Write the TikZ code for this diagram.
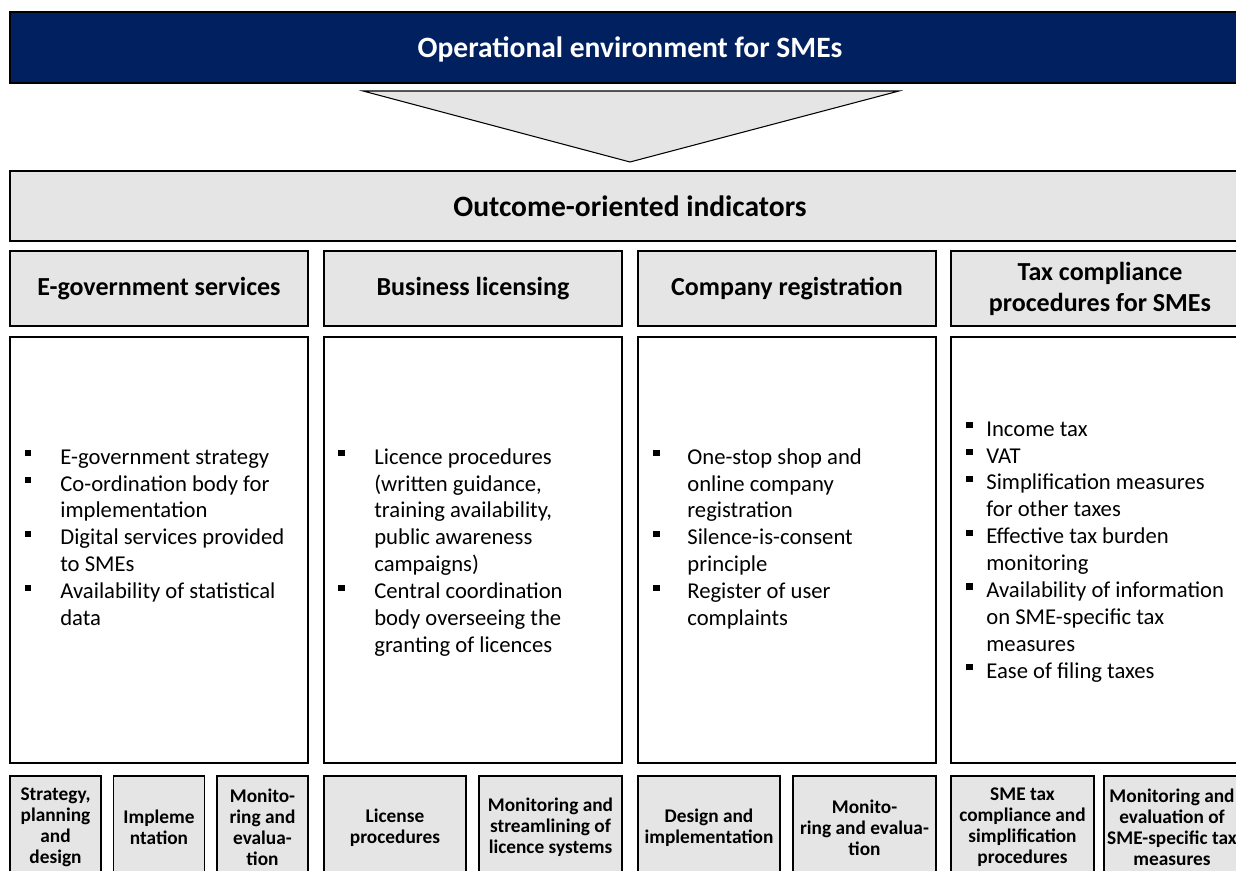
\documentclass[tikz,border=0pt]{standalone}
\usepackage{fontspec}
\setmainfont{Carlito}
\usepackage{array}
\definecolor{navy}{RGB}{0,32,96}
\newcommand{\sq}{\raisebox{4.5pt}{\rule{3.5pt}{3.5pt}}}

\begin{document}
\begin{tikzpicture}
[x=0.02cm,y=-0.02cm,
 box/.style={rectangle,draw=black,line width=1pt,fill=black!10,align=center,inner sep=2pt},
 banner/.style={box,fill=navy,text=white,font=\fontsize{16.8}{20}\selectfont\bfseries,minimum width=24.8cm,minimum height=1.42cm},
 outcome/.style={box,font=\fontsize{16.8}{20}\selectfont\bfseries,minimum width=24.8cm,minimum height=1.4cm},
 head/.style={box,font=\fontsize{14.8}{17.6}\selectfont\bfseries,minimum width=5.96cm,minimum height=1.5cm},
 content/.style={box,fill=white,minimum width=5.96cm,minimum height=8.52cm},
 list/.style={anchor=north west,inner sep=0pt,align=left,font=\fontsize{12.9}{15.3}\selectfont},
 sub/.style={box,font=\fontsize{11}{12}\selectfont\bfseries,minimum height=2.06cm}]
  \useasboundingbox (0,0) rectangle (1236,871);

  \node[banner,text depth=0pt] (env) at (630,47.5) {Operational environment for SMEs};
  \draw[line width=0.6pt,fill=black!10] (363,91) -- (899,91) -- (630,162) -- cycle;
  \node[outcome,text depth=0pt] (ind) at (630,206) {Outcome-oriented indicators};

  \node[head] (h1) at (159,288.5)  {E-government services};
  \node[head] (h2) at (473,288.5)  {Business licensing};
  \node[head] (h3) at (787,288.5)  {Company registration};
  \node[head] (h4) at (1100,288.5) {Tax compliance\\procedures for SMEs};

  \foreach \n/\cx in {c1/159,c2/473,c3/787,c4/1100}
    \node[content] (\n) at (\cx,550) {};

  \node[list] (l1) at (25,445) {\begin{tabular}{@{}p{0.7cm}@{}l@{}}
    \sq & E-government strategy\\
    \sq & Co-ordination body for\\
        & implementation\\
    \sq & Digital services provided\\
        & to SMEs\\
    \sq & Availability of statistical\\
        & data
  \end{tabular}};
  \node[list] (l2) at (338,445) {\begin{tabular}{@{}p{0.72cm}@{}l@{}}
    \sq & Licence procedures\\
        & (written guidance,\\
        & training availability,\\
        & public awareness\\
        & campaigns)\\
    \sq & Central coordination\\
        & body overseeing the\\
        & granting of licences
  \end{tabular}};
  \node[list] (l3) at (653,445) {\begin{tabular}{@{}p{0.68cm}@{}l@{}}
    \sq & One-stop shop and\\
        & online company\\
        & registration\\
    \sq & Silence-is-consent\\
        & principle\\
    \sq & Register of user\\
        & complaints
  \end{tabular}};
  \node[list] (l4) at (966,417) {\begin{tabular}{@{}p{0.4cm}@{}l@{}}
    \sq & Income tax\\
    \sq & VAT\\
    \sq & Simplification measures\\
        & for other taxes\\
    \sq & Effective tax burden\\
        & monitoring\\
    \sq & Availability of information\\
        & on SME-specific tax\\
        & measures\\
    \sq & Ease of filing taxes
  \end{tabular}};

  \foreach \n/\cx/\w/\txt in {
      s1/55.5/1.82/{Strategy,\\planning\\and\\design},
      s2/159/1.82/{Impleme\\ntation},
      s3/262.5/1.82/{Monito-\\ring and\\evalua-\\tion},
      s4/395/2.84/{License\\procedures},
      s5/550.5/2.86/{Monitoring and\\streamlining of\\licence systems},
      s6/709/2.84/{Design and\\implementation},
      s7/864.5/2.86/{Monito-\\ring and evalua-\\tion},
      s8/1022.5/2.86/{SME tax\\compliance and\\simplification\\procedures},
      s9/1172/2.62/{Monitoring and\\evaluation of\\SME-specific tax\\measures}}
    \node[sub,minimum width=\w cm] (\n) at (\cx,827.5) {\txt};
\end{tikzpicture}
\end{document}
